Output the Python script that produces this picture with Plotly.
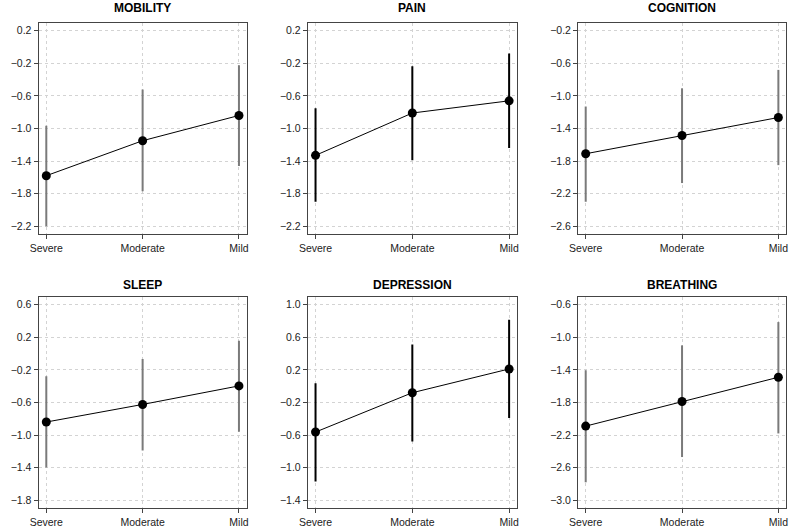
import plotly.graph_objects as go

categories = ["Severe", "Moderate", "Mild"]
titles = ["MOBILITY", "PAIN", "COGNITION", "SLEEP", "DEPRESSION", "BREATHING"]

mobility_mean = [-1.58, -1.15, -0.84]
mobility_low = [-2.20, -1.77, -1.46]
mobility_high = [-0.965, -0.52, -0.224]

pain_mean = [-1.33, -0.81, -0.66]
pain_low = [-1.90, -1.39, -1.24]
pain_high = [-0.75, -0.236, -0.08]

cognition_mean = [-1.71, -1.486, -1.265]
cognition_low = [-2.30, -2.07, -1.85]
cognition_high = [-1.13, -0.906, -0.68]

sleep_mean = [-0.84, -0.624, -0.396]
sleep_low = [-1.40, -1.19, -0.96]
sleep_high = [-0.277, -0.065, 0.159]

depression_mean = [-0.563, -0.08, 0.212]
depression_low = [-1.17, -0.68, -0.39]
depression_high = [0.037, 0.514, 0.816]

breathing_mean = [-2.09, -1.788, -1.49]
breathing_low = [-2.78, -2.47, -2.18]
breathing_high = [-1.404, -1.098, -0.812]

# y limits (tick extents) per panel
ylims = [(-2.2, 0.2), (-2.2, 0.2), (-2.6, -0.2), (-1.8, 0.6), (-1.4, 1.0), (-3.0, -0.6)]
bar_colors = ["#7a7a7a", "#000000", "#7a7a7a", "#7a7a7a", "#000000", "#7a7a7a"]

means = [mobility_mean, pain_mean, cognition_mean, sleep_mean, depression_mean, breathing_mean]
lows = [mobility_low, pain_low, cognition_low, sleep_low, depression_low, breathing_low]
highs = [mobility_high, pain_high, cognition_high, sleep_high, depression_high, breathing_high]

W, H = 793, 531
col_px = [(30, 241), (303, 515), (577, 788)]
row_px = [(23, 234), (297, 508)]
title_y_px = [8, 285]

fig = go.Figure()
FONT = "Liberation Sans, Arial, sans-serif"

for i in range(6):
    r, c = divmod(i, 3)
    n = i + 1
    xa = "x" if n == 1 else f"x{n}"
    ya = "y" if n == 1 else f"y{n}"
    m, lo, hi = means[i], lows[i], highs[i]
    fig.add_trace(go.Scatter(
        x=categories, y=m, mode="lines+markers",
        line=dict(color="black", width=1),
        marker=dict(color="black", size=9),
        error_y=dict(type="data", symmetric=False,
                     array=[h - v for h, v in zip(hi, m)],
                     arrayminus=[v - l for v, l in zip(m, lo)],
                     color=bar_colors[i], thickness=2, width=0),
        xaxis=xa, yaxis=ya, showlegend=False, hoverinfo="skip"))
    x0, x1 = col_px[c]
    y0, y1 = row_px[r]
    ymin, ymax = ylims[i]
    ext = 0.04 * (ymax - ymin)
    axis_common = dict(showline=True, mirror=True, linecolor="#444444", linewidth=1,
                       ticks="outside", ticklen=4, tickcolor="#444444",
                       showgrid=True, gridcolor="#d3d3d3", griddash="3px,3px", gridwidth=1,
                       zeroline=False, tickfont=dict(family=FONT, size=10.5, color="#222222"))
    fig.layout[f"xaxis{'' if n == 1 else n}"] = dict(
        domain=[x0 / W, x1 / W], anchor=ya, type="category",
        range=[-0.08, 2.08], **axis_common)
    fig.layout[f"yaxis{'' if n == 1 else n}"] = dict(
        domain=[1 - y1 / H, 1 - y0 / H], anchor=xa,
        range=[ymin - ext, ymax + ext], tick0=ymin, dtick=0.4,
        tickformat=".1f", **axis_common)
    fig.add_annotation(text=f"<b>{titles[i]}</b>", xref="paper", yref="paper",
                       x=(x0 + x1) / 2 / W, y=1 - title_y_px[r] / H,
                       xanchor="center", yanchor="middle", showarrow=False,
                       font=dict(family=FONT, size=12, color="black"))

fig.update_layout(width=W, height=H, margin=dict(l=0, r=0, t=0, b=0),
                  paper_bgcolor="white", plot_bgcolor="white")
fig.write_html("out.html", config={"displayModeBar": False},
               post_script="document.body.style.margin='0';document.body.style.overflow='hidden';")
